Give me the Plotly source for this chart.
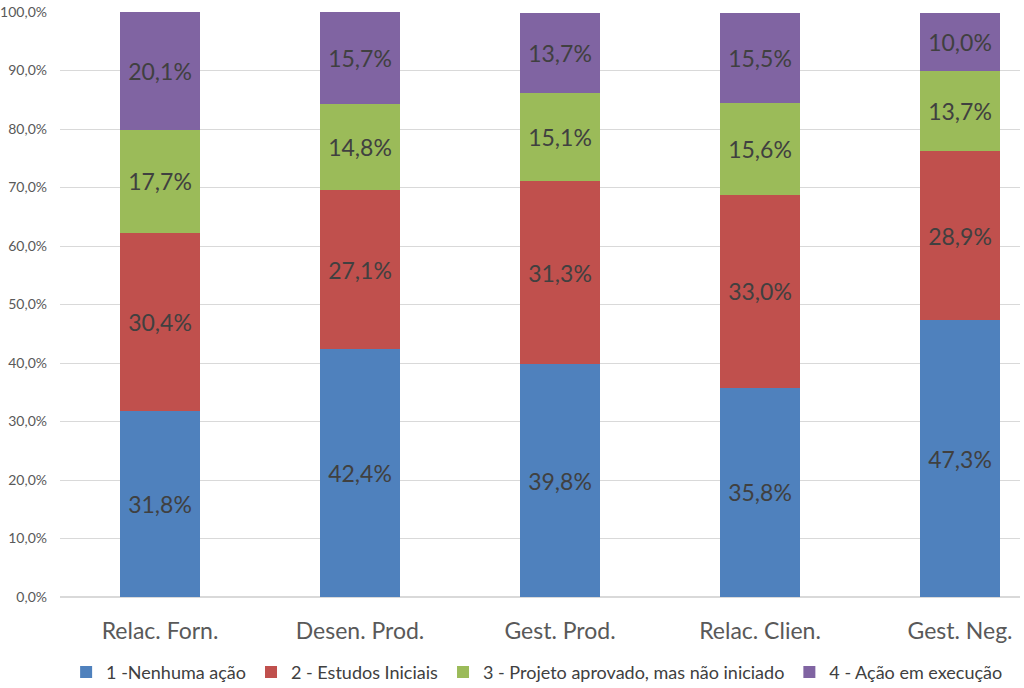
import plotly.graph_objects as go

categories = ["Relac. Forn.", "Desen. Prod.", "Gest. Prod.", "Relac. Clien.", "Gest. Neg."]
series_names = ["1 -Nenhuma ação", "2 - Estudos Iniciais",
                "3 - Projeto aprovado, mas não iniciado", "4 - Ação em execução"]
nenhuma = [31.8, 42.4, 39.8, 35.8, 47.3]
estudos = [30.4, 27.1, 31.3, 33.0, 28.9]
aprovado = [17.7, 14.8, 15.1, 15.6, 13.7]
execucao = [20.1, 15.7, 13.7, 15.5, 10.0]
colors = ["#4F81BD", "#C0504D", "#9BBB59", "#8064A2"]
y_ticks = [0, 10, 20, 30, 40, 50, 60, 70, 80, 90, 100]

font = "Lato, sans-serif"

fig = go.Figure()
for name, vals, col in zip(series_names, [nenhuma, estudos, aprovado, execucao], colors):
    fig.add_trace(go.Bar(
        x=categories, y=vals, name=name, marker_color=col, marker_line_width=0,
        width=0.4,
        text=[f"{v:.1f}%".replace(".", ",") for v in vals],
        textposition="inside", insidetextanchor="middle",
        textfont=dict(size=23, color="#404040", family=font),
        hoverinfo="skip",
    ))

fig.update_layout(
    barmode="stack",
    width=1024, height=688,
    margin=dict(l=60, r=4, t=12, b=91, autoexpand=False),
    paper_bgcolor="white", plot_bgcolor="white",
    separators=",.",
    font=dict(family=font, color="#595959"),
    uniformtext=dict(mode=False),
    legend=dict(orientation="h", x=0.497, xanchor="center", y=-0.097, yanchor="top",
                font=dict(size=18, color="#404040"), traceorder="normal",
                itemwidth=30),
    xaxis=dict(range=[-0.5, 4.3], tickfont=dict(size=23, color="#595959"),
               showgrid=False, showline=False, ticks="", automargin=False,
               ticklabelstandoff=18),
    yaxis=dict(range=[0, 100], tickvals=y_ticks,
               ticktext=[f"{v:.1f}%".replace(".", ",") for v in y_ticks],
               tickfont=dict(size=14, color="#595959"),
               showgrid=True, gridcolor="#D9D9D9", gridwidth=1,
               zeroline=True, zerolinecolor="#D9D9D9", showline=False, ticks="",
               ticklabelstandoff=12, automargin=False, ticklabeloverflow="allow"),
)
fig.write_html("out.html", config={"displayModeBar": False},
               post_script="document.body.style.margin='0';")
